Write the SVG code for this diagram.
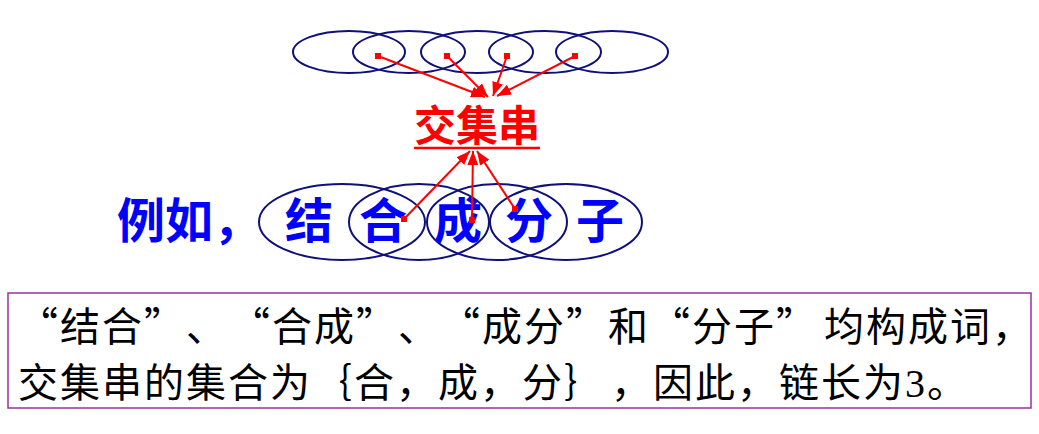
<svg xmlns="http://www.w3.org/2000/svg" width="1039" height="434" viewBox="0 0 1039 434">
<style>
.ell{fill:none;stroke:#10107a;stroke-width:2}
.arr{stroke:#ff0000;stroke-width:2;fill:none;marker-start:url(#sq);marker-end:url(#ah)}
.big{font-family:"Noto Sans CJK SC",sans-serif;font-weight:bold;font-size:48px;fill:#0000ff}
.lbl{font-family:"Noto Sans CJK SC",sans-serif;font-weight:bold;font-size:42px;fill:#ff0000}
.body{font-family:"Noto Sans CJK SC",sans-serif;font-size:40px;letter-spacing:2px;fill:#000;text-spacing-trim:space-all}
</style>
<defs>
<marker id="ah" markerWidth="14" markerHeight="11" refX="14" refY="5.5" orient="auto" markerUnits="userSpaceOnUse"><path d="M0,0 L14,5.5 L0,11 z" fill="#ff0000"/></marker>
<marker id="sq" markerWidth="6" markerHeight="6" refX="3" refY="3" markerUnits="userSpaceOnUse"><rect width="6" height="6" fill="#ff0000"/></marker>
</defs>
<rect width="1039" height="434" fill="#fff"/>
<g id="top-ellipses">
<ellipse class="ell" cx="349" cy="52" rx="56" ry="21"/>
<ellipse class="ell" cx="409" cy="52" rx="56" ry="21"/>
<ellipse class="ell" cx="477" cy="52" rx="56" ry="21"/>
<ellipse class="ell" cx="545" cy="52" rx="56" ry="21"/>
<ellipse class="ell" cx="612" cy="52" rx="56" ry="21"/>
</g>
<g id="label-jiaojichuan">
<text class="lbl" x="477" y="141" text-anchor="middle">交集串</text>
<line x1="414" y1="148" x2="540" y2="148" stroke="#ff0000" stroke-width="2.5"/>
</g>
<g id="example-label">
<text class="big" x="117" y="238">例如，</text>
</g>
<g id="word-ellipses">
<ellipse class="ell" cx="342" cy="222" rx="83" ry="38"/>
<ellipse class="ell" cx="419" cy="222" rx="70" ry="38"/>
<ellipse class="ell" cx="497" cy="222" rx="70" ry="38"/>
<ellipse class="ell" cx="566" cy="222" rx="76" ry="38"/>
<text class="big" x="309" y="238" text-anchor="middle">结</text>
<text class="big" x="383" y="238" text-anchor="middle">合</text>
<text class="big" x="458" y="238" text-anchor="middle">成</text>
<text class="big" x="529" y="238" text-anchor="middle">分</text>
<text class="big" x="600" y="238" text-anchor="middle">子</text>
</g>
<g id="connectors">
<line class="arr" x1="378" y1="56" x2="485" y2="97"/>
<line class="arr" x1="447" y1="56" x2="488" y2="97"/>
<line class="arr" x1="507" y1="56" x2="493" y2="96"/>
<line class="arr" x1="575" y1="56" x2="497" y2="96"/>
<line class="arr" x1="404" y1="219" x2="470" y2="151"/>
<line class="arr" x1="472" y1="220" x2="473" y2="151"/>
<line class="arr" x1="515" y1="209" x2="477" y2="151"/>
</g>
<g id="text-box">
<rect x="8" y="293" width="1023" height="115" fill="none" stroke="#9b30a0" stroke-width="1.5"/>
<text class="body" y="341"><tspan x="18">“结合”、</tspan><tspan x="230">“合成”、</tspan><tspan x="440">“成分”和“分子”</tspan><tspan x="824">均构成词，</tspan></text>
<text class="body" y="397"><tspan x="18">交集串的集合为｛合，成，分｝</tspan><tspan x="611">，因此，链长为<tspan font-family="Liberation Serif">3</tspan>。</tspan></text>
</g>
</svg>
